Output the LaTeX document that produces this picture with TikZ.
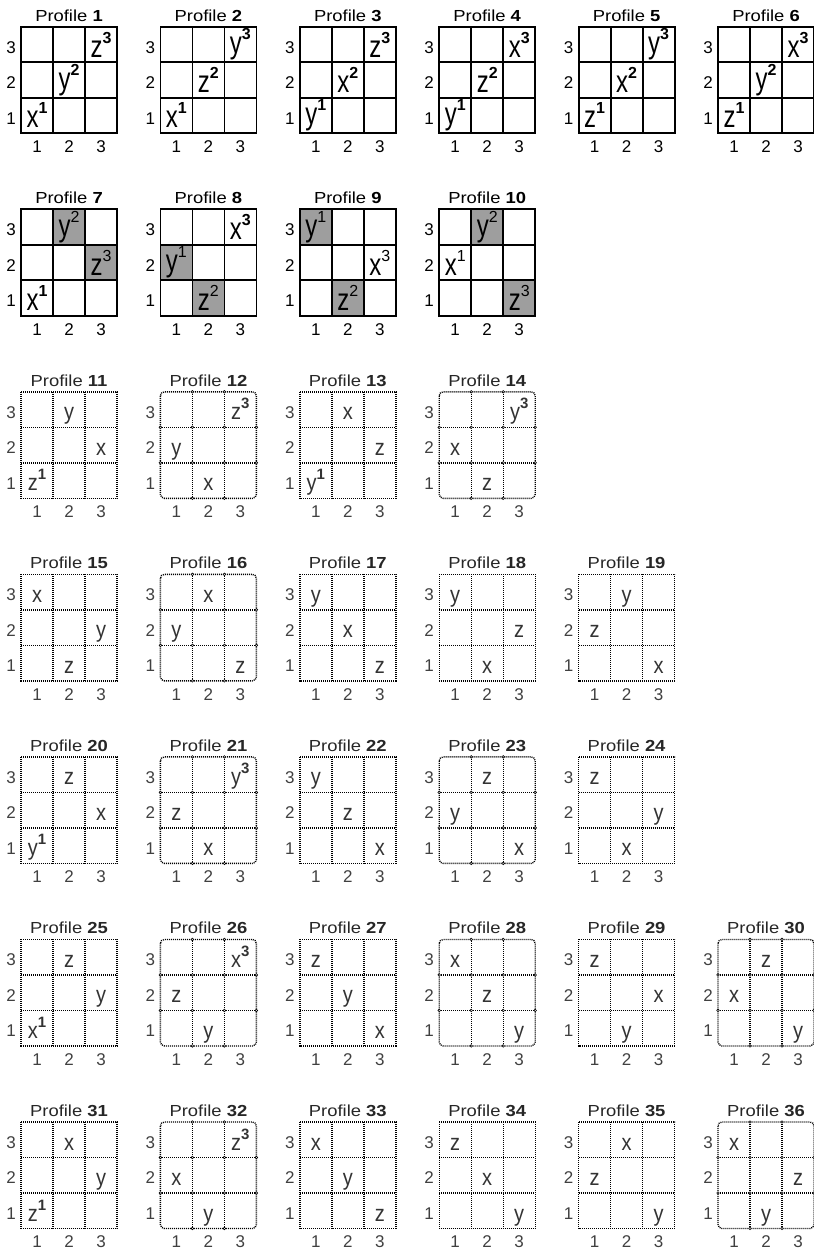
\documentclass[tikz,border=0pt]{standalone}
\usepackage{fontspec}
\setmainfont{Liberation Sans}
\newfontfamily\titlefont[FakeStretch=1.15]{Liberation Sans}

\tikzset{
  solidline/.style={line width=1.8pt, draw=black},
  dotline/.style={line width=1.4pt, draw=black, dash pattern=on 1pt off 1pt},
  junction/.style={line width=0.6pt, draw=black, fill=white},
  shadefill/.style={fill=black!38},
  titlesty/.style={font=\titlefont\fontsize{16}{16}\selectfont, anchor=base, inner sep=0pt},
  axlab/.style={font=\fontsize{17}{17}\selectfont, inner sep=0pt},
  soltxt/.style={font=\fontsize{24}{24}\selectfont, inner sep=0pt},
  dottxt/.style={font=\fontsize{20}{20}\selectfont, anchor=base, inner sep=0pt, text=black!80},
}

\newcommand\curp{}
\newcommand\Lts[1]{\scalebox{1}[1.3]{#1}}
\newcommand\Ltd[1]{\scalebox{1}[1.15]{#1}}
\newcommand\SupS[1]{\raisebox{14pt}{\fontsize{16}{16}\selectfont #1}}
\newcommand\SupD[1]{\raisebox{11pt}{\fontsize{15}{15}\selectfont\bfseries #1}}
% solid-grid entries
\newcommand\Eb[4]{\node[soltxt] (p\curp-#1#2) at ({32*#1-16},{35.5*(3-#2)+17.75}) {\Lts{#3}\SupS{\bfseries #4}};}
\newcommand\En[4]{\node[soltxt] (p\curp-#1#2) at ({32*#1-16},{35.5*(3-#2)+17.75}) {\Lts{#3}\SupS{#4}};}
\newcommand\Es[4]{\fill[shadefill] ({32*(#1-1)},{35.5*(3-#2)}) rectangle ++(32,35.5);\En{#1}{#2}{#3}{#4}}
% dotted-grid entries
\newcommand\Ed[3]{\node[dottxt] (p\curp-#1#2) at ({32*#1-16},{35.5*(3-#2)+28}) {\Ltd{#3}};}
\newcommand\Eds[4]{\node[dottxt] (p\curp-#1#2) at ({32*#1-16},{35.5*(3-#2)+28}) {\Ltd{#3}\SupD{#4}};}

\newcommand\Prof[5]{%
  \renewcommand\curp{#1}%
  \begin{scope}[shift={({21+139.4*(#2-1)},{26.7+182.55*(#3-1)})}]
    #5
    \if S#4
      \draw[solidline] (0,0) rectangle (96,106.5) (32,0) -- (32,106.5) (64,0) -- (64,106.5)
        (0,35.5) -- (96,35.5) (0,71) -- (96,71);
      \node[titlesty] (t#1) at (48,-5.5) {Profile \textbf{#1}};
      \begin{scope}[every node/.style={axlab}]
        \node (p#1-r3) at (-10,20.5) {3};
        \node (p#1-r2) at (-10,56) {2};
        \node (p#1-r1) at (-10,91.5) {1};
        \node (p#1-c1) at (16,120) {1};
        \node (p#1-c2) at (48,120) {2};
        \node (p#1-c3) at (80,120) {3};
      \end{scope}
    \else
      \if R#4
        \draw[dotline, rounded corners=4pt] (0,0) rectangle (96,106.5);
      \else
        \draw[dotline] (0,0) rectangle (96,106.5);
      \fi
      \draw[dotline] (32,0) -- (32,106.5) (64,0) -- (64,106.5)
        (0,35.5) -- (96,35.5) (0,71) -- (96,71);
      \if R#4
        \foreach \jx/\jy in {32/0,64/0,32/106.5,64/106.5,0/35.5,0/71,96/35.5,96/71,32/35.5,64/35.5,32/71,64/71}
          \draw[junction] (\jx,\jy) circle (1.3);
      \fi
      \node[titlesty, text=black!85] (t#1) at (48,-5.5) {Profile \textbf{#1}};
      \begin{scope}[every node/.style={axlab, text=black!75}]
        \node (p#1-r3) at (-10,20.5) {3};
        \node (p#1-r2) at (-10,56) {2};
        \node (p#1-r1) at (-10,91.5) {1};
        \node (p#1-c1) at (16,120) {1};
        \node (p#1-c2) at (48,120) {2};
        \node (p#1-c3) at (80,120) {3};
      \end{scope}
    \fi
  \end{scope}}

\begin{document}
\begin{tikzpicture}[x=1pt, y=-1pt]
\useasboundingbox (0,0) rectangle (814,1251);
% row 1
\Prof{1}{1}{1}{S}{\Eb{1}{1}{x}{1}\Eb{2}{2}{y}{2}\Eb{3}{3}{z}{3}}
\Prof{2}{2}{1}{S}{\Eb{1}{1}{x}{1}\Eb{2}{2}{z}{2}\Eb{3}{3}{y}{3}}
\Prof{3}{3}{1}{S}{\Eb{1}{1}{y}{1}\Eb{2}{2}{x}{2}\Eb{3}{3}{z}{3}}
\Prof{4}{4}{1}{S}{\Eb{1}{1}{y}{1}\Eb{2}{2}{z}{2}\Eb{3}{3}{x}{3}}
\Prof{5}{5}{1}{S}{\Eb{1}{1}{z}{1}\Eb{2}{2}{x}{2}\Eb{3}{3}{y}{3}}
\Prof{6}{6}{1}{S}{\Eb{1}{1}{z}{1}\Eb{2}{2}{y}{2}\Eb{3}{3}{x}{3}}
% row 2
\Prof{7}{1}{2}{S}{\Eb{1}{1}{x}{1}\Es{2}{3}{y}{2}\Es{3}{2}{z}{3}}
\Prof{8}{2}{2}{S}{\Eb{3}{3}{x}{3}\Es{1}{2}{y}{1}\Es{2}{1}{z}{2}}
\Prof{9}{3}{2}{S}{\Es{1}{3}{y}{1}\En{3}{2}{x}{3}\Es{2}{1}{z}{2}}
\Prof{10}{4}{2}{S}{\Es{2}{3}{y}{2}\En{1}{2}{x}{1}\Es{3}{1}{z}{3}}
% row 3
\Prof{11}{1}{3}{D}{\Ed{2}{3}{y}\Ed{3}{2}{x}\Eds{1}{1}{z}{1}}
\Prof{12}{2}{3}{R}{\Eds{3}{3}{z}{3}\Ed{1}{2}{y}\Ed{2}{1}{x}}
\Prof{13}{3}{3}{D}{\Ed{2}{3}{x}\Ed{3}{2}{z}\Eds{1}{1}{y}{1}}
\Prof{14}{4}{3}{R}{\Eds{3}{3}{y}{3}\Ed{1}{2}{x}\Ed{2}{1}{z}}
% row 4
\Prof{15}{1}{4}{D}{\Ed{1}{3}{x}\Ed{3}{2}{y}\Ed{2}{1}{z}}
\Prof{16}{2}{4}{R}{\Ed{2}{3}{x}\Ed{1}{2}{y}\Ed{3}{1}{z}}
\Prof{17}{3}{4}{D}{\Ed{1}{3}{y}\Ed{2}{2}{x}\Ed{3}{1}{z}}
\Prof{18}{4}{4}{D}{\Ed{1}{3}{y}\Ed{3}{2}{z}\Ed{2}{1}{x}}
\Prof{19}{5}{4}{D}{\Ed{2}{3}{y}\Ed{1}{2}{z}\Ed{3}{1}{x}}
% row 5
\Prof{20}{1}{5}{D}{\Ed{2}{3}{z}\Ed{3}{2}{x}\Eds{1}{1}{y}{1}}
\Prof{21}{2}{5}{R}{\Eds{3}{3}{y}{3}\Ed{1}{2}{z}\Ed{2}{1}{x}}
\Prof{22}{3}{5}{D}{\Ed{1}{3}{y}\Ed{2}{2}{z}\Ed{3}{1}{x}}
\Prof{23}{4}{5}{R}{\Ed{2}{3}{z}\Ed{1}{2}{y}\Ed{3}{1}{x}}
\Prof{24}{5}{5}{D}{\Ed{1}{3}{z}\Ed{3}{2}{y}\Ed{2}{1}{x}}
% row 6
\Prof{25}{1}{6}{D}{\Ed{2}{3}{z}\Ed{3}{2}{y}\Eds{1}{1}{x}{1}}
\Prof{26}{2}{6}{R}{\Eds{3}{3}{x}{3}\Ed{1}{2}{z}\Ed{2}{1}{y}}
\Prof{27}{3}{6}{D}{\Ed{1}{3}{z}\Ed{2}{2}{y}\Ed{3}{1}{x}}
\Prof{28}{4}{6}{R}{\Ed{1}{3}{x}\Ed{2}{2}{z}\Ed{3}{1}{y}}
\Prof{29}{5}{6}{D}{\Ed{1}{3}{z}\Ed{3}{2}{x}\Ed{2}{1}{y}}
\Prof{30}{6}{6}{R}{\Ed{2}{3}{z}\Ed{1}{2}{x}\Ed{3}{1}{y}}
% row 7
\Prof{31}{1}{7}{D}{\Ed{2}{3}{x}\Ed{3}{2}{y}\Eds{1}{1}{z}{1}}
\Prof{32}{2}{7}{R}{\Eds{3}{3}{z}{3}\Ed{1}{2}{x}\Ed{2}{1}{y}}
\Prof{33}{3}{7}{D}{\Ed{1}{3}{x}\Ed{2}{2}{y}\Ed{3}{1}{z}}
\Prof{34}{4}{7}{D}{\Ed{1}{3}{z}\Ed{2}{2}{x}\Ed{3}{1}{y}}
\Prof{35}{5}{7}{D}{\Ed{2}{3}{x}\Ed{1}{2}{z}\Ed{3}{1}{y}}
\Prof{36}{6}{7}{R}{\Ed{1}{3}{x}\Ed{3}{2}{z}\Ed{2}{1}{y}}
\end{tikzpicture}
\end{document}
